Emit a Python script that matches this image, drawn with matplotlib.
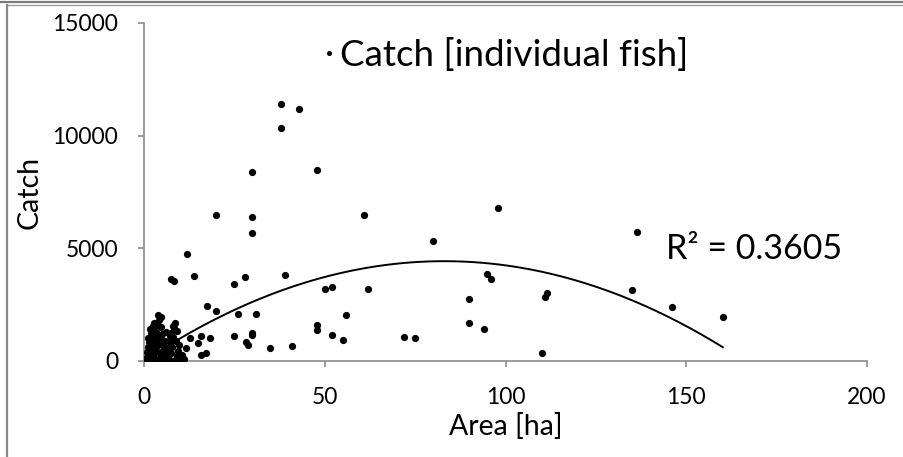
import numpy as np
import matplotlib
matplotlib.use("Agg")
import matplotlib.pyplot as plt
from matplotlib.lines import Line2D

plt.rcParams["font.family"] = ["Lato", "DejaVu Sans"]

# fish catch per lake vs lake area
area_ha = [
    # larger lakes
    37.9, 43.0, 37.9, 30.0, 47.9, 30.0, 60.9, 97.9, 30.0, 79.9,
    39.0, 50.0, 52.0, 61.9, 95.0, 96.0, 110.9, 111.6, 90.0, 31.0,
    56.0, 90.0, 94.0, 47.9, 47.9, 30.0, 30.0, 51.9, 55.0, 71.9,
    74.9, 34.9, 40.9, 110.0, 136.3, 135.0, 146.0, 160.1,
    19.9, 12.0, 7.4, 8.4, 13.9, 24.8, 27.9,
    17.4, 19.9, 26.0, 24.9, 28.3, 28.8,
    15.9, 18.2, 14.9, 12.6, 11.7, 15.9, 17.1, 9.9,
    # small lakes below 12 ha
    0.3, 0.6, 1.0, 1.3, 0.8, 1.6, 2.0, 2.3, 1.1, 1.9,
    2.6, 3.0, 3.3, 2.7, 1.5, 2.2, 3.1, 2.8, 1.8, 3.4,
    2.5, 3.6, 2.9, 3.9, 4.7, 4.2, 3.7, 4.1, 4.4, 3.8,
    5.0, 5.5, 5.2, 6.0, 6.3, 5.8, 6.6, 5.1, 6.0,
    7.0, 7.4, 7.8, 7.2, 8.0, 7.6, 8.3, 8.6, 8.8, 9.0,
    9.4, 8.5, 10.0, 10.6, 11.0, 9.8, 8.0, 9.0, 4.8, 0.5,
    1.2, 1.7, 2.4, 3.2, 4.6, 5.6, 6.8, 7.3,
]
catch_fish = [
    11407, 11170, 10328, 8375, 8490, 6378, 6467, 6790, 5681, 5340,
    3830, 3196, 3270, 3210, 3846, 3624, 2855, 3003, 2767, 2086,
    2026, 1686, 1405, 1598, 1390, 1228, 1150, 1154, 946, 1050,
    1006, 590, 680, 340, 5725, 3136, 2410, 1966,
    6467, 4763, 3640, 3551, 3786, 3418, 3728,
    2428, 2206, 2100, 1110, 857, 710,
    1123, 1034, 786, 1007, 564, 266, 340, 75,
    50, 150, 30, 250, 400, 120, 60, 350, 600, 550,
    200, 100, 450, 700, 850, 1000, 900, 1150, 1250, 1300,
    1450, 1600, 1700, 2040, 1966, 1800, 1100, 750, 300, 50,
    150, 400, 650, 250, 550, 900, 80, 1200, 1300,
    100, 350, 600, 850, 1050, 1250, 1450, 1690, 900, 200,
    450, 50, 100, 250, 80, 700, 1550, 1350, 1500, 20,
    1000, 1400, 1550, 600, 1000, 30, 400, 1100,
]

# second-order polynomial trendline
trend_coef = [-0.6426, 106.7, 0.0]
r2_label = "R² = 0.3605"

x_ticks = [0, 50, 100, 150, 200]
y_ticks = [0, 5000, 10000, 15000]

fig = plt.figure(figsize=(9.04, 4.57), dpi=100)
ax = fig.add_axes([0.1593, 0.2101, 0.7998, 0.7396])

ax.plot(area_ha, catch_fish, "o", color="black", markersize=5.2,
        markeredgewidth=0, label="Catch [individual fish]", zorder=3)

xs = np.linspace(0, max(area_ha), 200)
ax.plot(xs, np.polyval(trend_coef, xs), color="black", linewidth=1.4, zorder=2)

ax.text(168.7, 4970, r2_label, fontsize=24.5, ha="center", va="center")

ax.set_xlim(0, 200)
ax.set_ylim(0, 15000)
ax.set_xticks(x_ticks)
ax.set_yticks(y_ticks)

gray = "#8c8c8c"
for side in ("top", "right"):
    ax.spines[side].set_visible(False)
for side in ("left", "bottom"):
    ax.spines[side].set_color(gray)
    ax.spines[side].set_linewidth(1.2)
ax.tick_params(axis="both", direction="out", length=4.5, width=1.2,
               color=gray, labelsize=16.5)
ax.tick_params(axis="y", pad=14)
ax.tick_params(axis="x", pad=14)

ax.set_xlabel("Area [ha]", fontsize=20.5, labelpad=4)
ax.set_ylabel("Catch", fontsize=20.5, labelpad=7)

leg = ax.legend(loc="center", bbox_to_anchor=(0.5, 0.906), frameon=False,
                fontsize=26.5, handlelength=0.3, handletextpad=0.15,
                markerscale=0.7, borderaxespad=0, borderpad=0)

# frame lines along the top and left edge
fig.add_artist(Line2D([0, 1], [0.996, 0.996], transform=fig.transFigure,
                      color="#7a7a7a", linewidth=1.6))
fig.add_artist(Line2D([0.0077, 1], [0.989, 0.989], transform=fig.transFigure,
                      color="#9a9a9a", linewidth=1.0))
fig.add_artist(Line2D([0.0077, 0.0077], [0, 0.989], transform=fig.transFigure,
                      color="#8a8a8a", linewidth=1.6))

fig.savefig("out.png", dpi=100)
